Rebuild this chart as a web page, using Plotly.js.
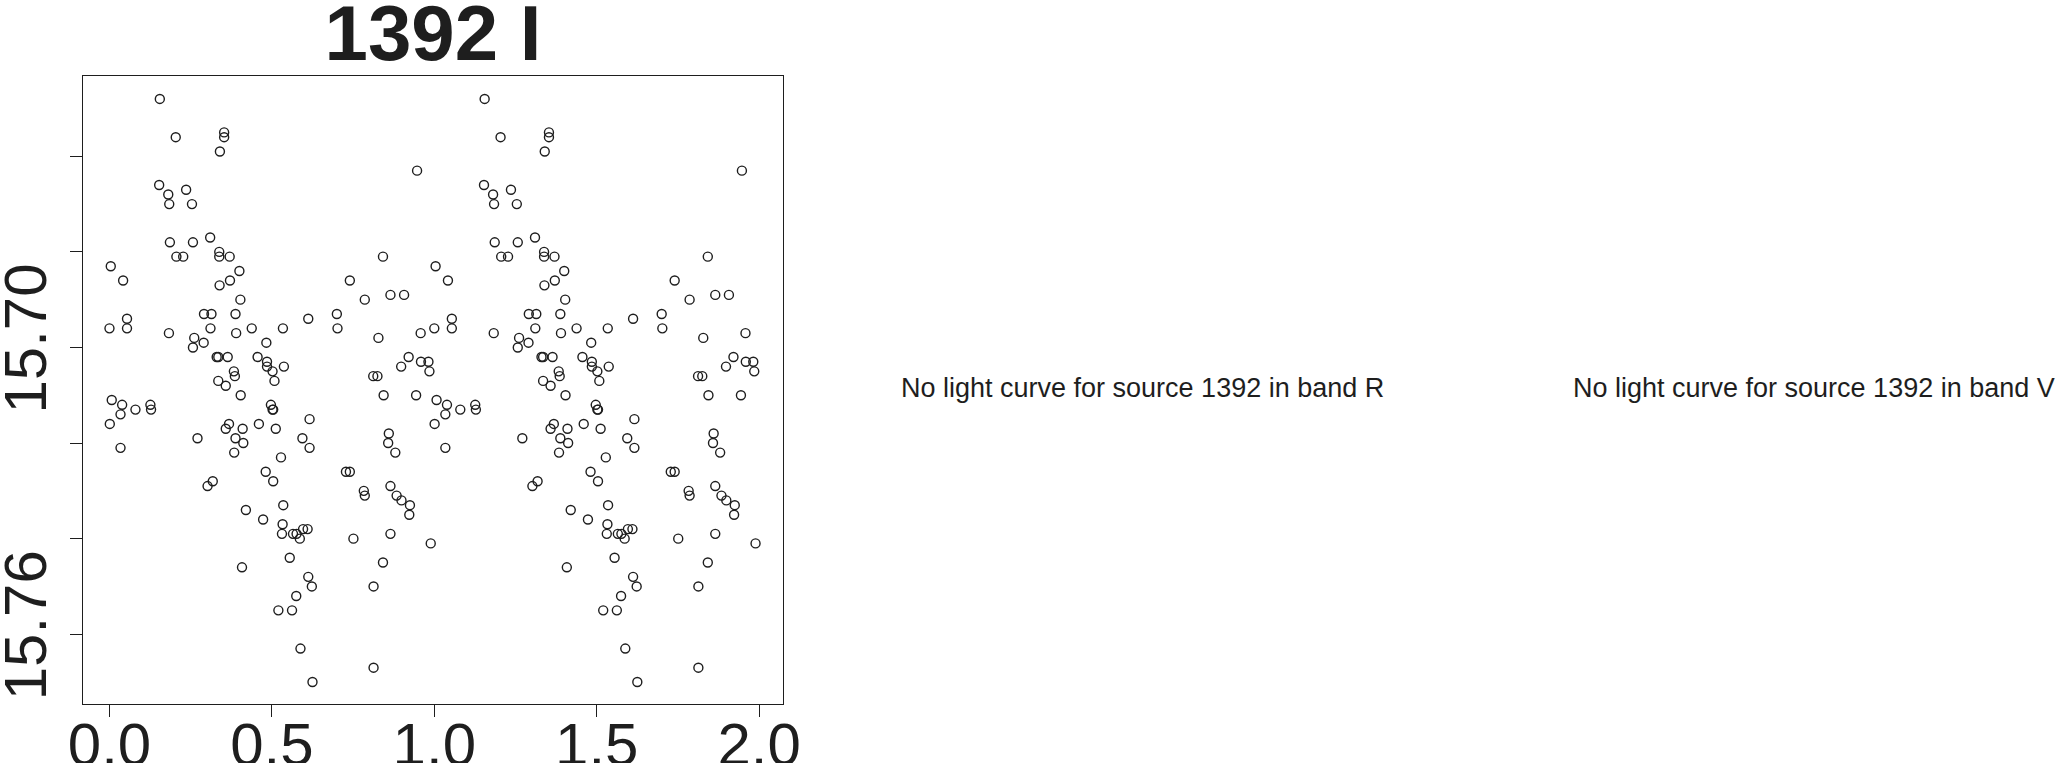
<!DOCTYPE html>
<html>
<head>
<meta charset="utf-8">
<script src="https://cdn.plot.ly/plotly-3.0.1.min.js"></script>
<style>
  html, body { margin: 0; padding: 0; background: #ffffff; }
  #chart { width: 2064px; height: 763px; }
</style>
</head>
<body>
<div id="chart"></div>
<script>
// Phase (one cycle, 0..1) and I-band magnitude
const phase = [
  0.155, 0.204, 0.353, 0.353, 0.340, 0.153, 0.181, 0.236, 0.184, 0.254,
  0.186, 0.257, 0.310, 0.338, 0.338, 0.370, 0.206, 0.227, 0.004, 0.042,
  0.400, 0.371, 0.339, 0.947, 0.842, 0.740, 0.865, 0.907, 0.786, 0.403,
  0.291, 0.314, 0.388, 0.054, 0.000, 0.054, 0.311, 0.438, 0.534, 0.183,
  0.390, 0.261, 0.257, 0.290, 0.483, 0.330, 0.335, 0.364, 0.456, 0.485,
  0.485, 0.502, 0.508, 0.383, 0.386, 0.335, 0.358, 0.404, 0.007, 0.039,
  0.034, 0.080, 0.126, 0.128, 0.001, 0.034, 0.497, 0.502, 0.504, 0.368,
  0.358, 0.410, 0.460, 0.512, 0.388, 0.412, 0.384, 0.271, 0.528, 0.481,
  0.504, 0.318, 0.302, 0.612, 0.700, 0.702, 0.828, 0.958, 0.921, 0.898,
  0.959, 0.982, 0.985, 0.812, 0.825, 0.537, 0.844, 0.944, 0.616, 0.594,
  0.616, 0.860, 0.858, 0.880, 0.728, 0.740, 0.783, 0.786, 0.865, 0.884,
  0.899, 0.925, 0.923, 0.535, 0.533, 0.531, 0.565, 0.576, 0.586, 0.596,
  0.610, 0.751, 0.865, 0.989, 0.555, 0.842, 0.612, 0.623, 0.575, 0.813,
  0.520, 0.562, 0.588, 0.813, 0.625, 0.420, 0.473, 0.408
];
const mag = [
  15.648, 15.656, 15.655, 15.656, 15.659, 15.666, 15.668, 15.667, 15.670, 15.670,
  15.678, 15.678, 15.677, 15.680, 15.681, 15.681, 15.681, 15.681, 15.683, 15.686,
  15.684, 15.686, 15.687, 15.663, 15.681, 15.686, 15.689, 15.689, 15.690, 15.690,
  15.693, 15.693, 15.693, 15.694, 15.696, 15.696, 15.696, 15.696, 15.696, 15.697,
  15.697, 15.698, 15.700, 15.699, 15.699, 15.702, 15.702, 15.702, 15.702, 15.703,
  15.704, 15.705, 15.707, 15.705, 15.706, 15.707, 15.708, 15.710, 15.711, 15.712,
  15.714, 15.713, 15.712, 15.713, 15.716, 15.721, 15.712, 15.713, 15.713, 15.716,
  15.717, 15.717, 15.716, 15.717, 15.719, 15.720, 15.722, 15.719, 15.723, 15.726,
  15.728, 15.728, 15.729, 15.694, 15.693, 15.696, 15.698, 15.697, 15.702, 15.704,
  15.703, 15.703, 15.705, 15.706, 15.706, 15.704, 15.710, 15.710, 15.715, 15.719,
  15.721, 15.718, 15.720, 15.722, 15.726, 15.726, 15.730, 15.731, 15.729, 15.731,
  15.732, 15.733, 15.735, 15.733, 15.737, 15.739, 15.739, 15.739, 15.740, 15.738,
  15.738, 15.740, 15.739, 15.741, 15.744, 15.745, 15.748, 15.750, 15.752, 15.750,
  15.755, 15.755, 15.763, 15.767, 15.770, 15.734, 15.736, 15.746
];
const xTickVals = [0.0, 0.5, 1.0, 1.5, 2.0];
const xTickText = ["0.0", "0.5", "1.0", "1.5", "2.0"];
const yTickVals = [15.66, 15.68, 15.70, 15.72, 15.74, 15.76];
const yTickText = ["", "", "15.70", "", "", "15.76"];
const titleText = "1392 I";
const noCurveR = "No light curve for source 1392 in band R";
const noCurveV = "No light curve for source 1392 in band V";

// Two cycles are shown: each observation at its phase and at phase + 1
const xs = phase.concat(phase.map(p => p + 1));
const ys = mag.concat(mag);

const FONT = '"Liberation Sans", Arial, Helvetica, sans-serif';

const trace = {
  type: 'scatter',
  mode: 'markers',
  x: xs,
  y: ys,
  marker: {
    symbol: 'circle-open',
    size: 9,
    color: '#1e1e1e',
    line: { width: 1.4, color: '#1e1e1e' }
  },
  hoverinfo: 'skip'
};

const layout = {
  width: 2064,
  height: 763,
  paper_bgcolor: '#ffffff',
  plot_bgcolor: '#ffffff',
  showlegend: false,
  margin: { l: 83, r: 1281, t: 76, b: 59, pad: 0 },
  font: { family: FONT, color: '#1e1e1e' },
  title: {
    text: '<b>' + titleText + '</b>',
    font: { family: FONT, size: 78, color: '#1e1e1e' },
    x: 433 / 2064,
    xanchor: 'center',
    xref: 'container',
    y: 1 - 33 / 763,
    yanchor: 'middle',
    yref: 'container'
  },
  xaxis: {
    range: [-0.0815, 2.0735],
    tickvals: xTickVals,
    ticktext: xTickText,
    showgrid: false,
    zeroline: false,
    showline: true,
    mirror: true,
    linecolor: '#1e1e1e',
    linewidth: 1,
    ticks: 'outside',
    ticklen: 12,
    tickwidth: 1,
    tickcolor: '#1e1e1e',
    ticklabelstandoff: -24,
    tickfont: { family: FONT, size: 60, color: '#1e1e1e' }
  },
  yaxis: {
    range: [15.7746, 15.6432],
    tickvals: yTickVals,
    ticktext: yTickText,
    tickangle: -90,
    showgrid: false,
    zeroline: false,
    showline: true,
    mirror: true,
    linecolor: '#1e1e1e',
    linewidth: 1,
    ticks: 'outside',
    ticklen: 12,
    tickwidth: 1,
    tickcolor: '#1e1e1e',
    tickfont: { family: FONT, size: 60, color: '#1e1e1e' }
  },
  annotations: [
    {
      text: noCurveR,
      xref: 'paper', yref: 'paper',
      x: (899 - 83) / (783 - 83), xanchor: 'left',
      y: (704 - 388) / (704 - 76), yanchor: 'middle',
      showarrow: false,
      font: { family: FONT, size: 27, color: '#1e1e1e' }
    },
    {
      text: noCurveV,
      xref: 'paper', yref: 'paper',
      x: (1571 - 83) / (783 - 83), xanchor: 'left',
      y: (704 - 388) / (704 - 76), yanchor: 'middle',
      showarrow: false,
      font: { family: FONT, size: 27, color: '#1e1e1e' }
    }
  ]
};

Plotly.newPlot('chart', [trace], layout, { staticPlot: true, displayModeBar: false });
</script>
</body>
</html>
